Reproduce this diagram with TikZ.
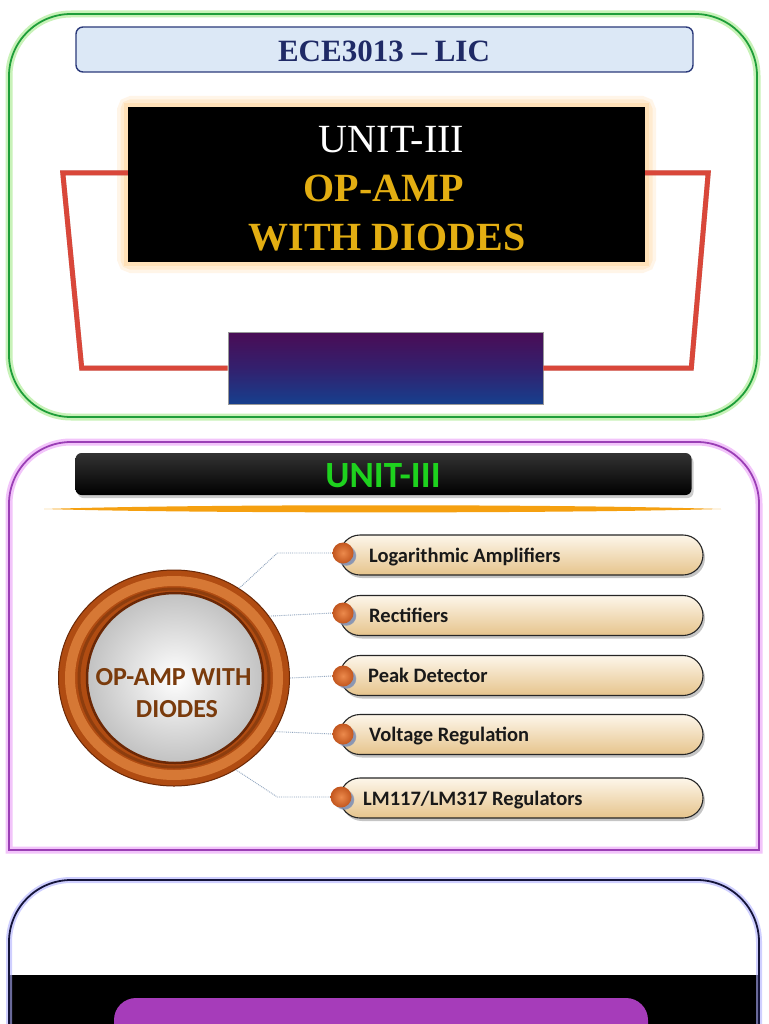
\documentclass[tikz,border=0pt]{standalone}
\usepackage{fontspec}
\newfontfamily\tms{Liberation Serif}
\newfontfamily\calib{Carlito}
\usetikzlibrary{shapes.geometric,shapes.misc,shadows,calc}
\definecolor{panelgreen}{HTML}{1E9E3A}
\definecolor{glowgreen}{HTML}{C8F2B8}
\definecolor{ecefill}{HTML}{DCE8F6}
\definecolor{ecedraw}{HTML}{2B3A7A}
\definecolor{ecetext}{HTML}{1F2A66}
\definecolor{gold}{HTML}{E3AE12}
\definecolor{redline}{HTML}{D9473A}
\definecolor{pviolet}{HTML}{4A0C55}
\definecolor{pblue}{HTML}{163F8D}
\definecolor{pmid}{HTML}{33206E}
\definecolor{panelpurple}{HTML}{9A3FB5}
\definecolor{glowpurple}{HTML}{F2C4FA}
\definecolor{unitgreen}{HTML}{1ED21E}
\definecolor{orangeline}{HTML}{F5A010}
\definecolor{ringbrown}{HTML}{B04C12}
\definecolor{ringlight}{HTML}{E0843E}
\definecolor{ringdark}{HTML}{6B2806}
\definecolor{disctext}{HTML}{7A3B0C}
\definecolor{pilltop}{HTML}{FDF6EA}
\definecolor{pillbot}{HTML}{E6C48C}
\definecolor{bulletin}{HTML}{EC8A4C}
\definecolor{bulletout}{HTML}{C2561E}
\definecolor{bulletsh}{HTML}{8090B4}
\definecolor{connblue}{HTML}{8EA3BD}
\definecolor{navyline}{HTML}{15153A}
\definecolor{glowblue}{HTML}{B0B0FF}
\definecolor{btnpurple}{HTML}{A63CBA}
\definecolor{glowor}{HTML}{FFD9A6}
\tikzset{
  pill/.style={rounded rectangle, minimum width=363pt, minimum height=40pt, inner sep=0pt,
    top color=pilltop, bottom color=pillbot, draw=black!85, line width=1.1pt,
    drop shadow={shadow xshift=2pt, shadow yshift=-3pt, opacity=0.45}},
  bulletdot/.style={circle, minimum size=21pt, inner sep=0pt, inner color=bulletin, outer color=bulletout,
    circular drop shadow={shadow xshift=3pt, shadow yshift=-2.5pt, shadow scale=1, fill=bulletsh, opacity=0.9}},
  itemtxt/.style={anchor=base west, inner sep=0pt, text=black!90,
    font=\calib\bfseries\fontsize{20.5}{24}\selectfont},
  conn/.style={draw=connblue, line width=0.9pt, densely dotted},
  redpath/.style={draw=redline, line width=5pt, line join=miter},
  redshadow/.style={draw=black, opacity=0.18, line width=5pt, line join=miter}
}
\begin{document}
\begin{tikzpicture}[x=1pt,y=-1pt]
\useasboundingbox (0,0) rectangle (768,1024);
\clip (0,0) rectangle (768,1024);
\fill[white] (0,0) rectangle (768,1024);

% ---------------- top panel ----------------
\draw[line width=7pt, draw=glowgreen, rounded corners=62pt] (9,14) rectangle (757,417);
\draw[line width=1.8pt, draw=panelgreen, rounded corners=62pt] (9,14) rectangle (757,417);

\node[rectangle, rounded corners=7pt, fill=ecefill, draw=ecedraw, line width=1.4pt,
      minimum width=617pt, minimum height=45pt, inner sep=0pt] (ece) at (384.5,49.5) {};
\node[anchor=base, inner sep=0pt, text=ecetext] (ecetxt) at (384,62)
  {\tms\bfseries\fontsize{31}{34}\selectfont ECE3013 – LIC};

% soft orange glow of title box
\draw[line width=22pt, draw=glowor, opacity=0.25, rounded corners=4pt] (128,107) rectangle (645,262);
\draw[line width=15pt, draw=glowor, opacity=0.35, rounded corners=3pt] (128,107) rectangle (645,262);
\draw[line width=8pt, draw=glowor, opacity=0.55] (128,107) rectangle (645,262);
\node[rectangle, fill=black, minimum width=517pt, minimum height=155pt, inner sep=0pt]
  (title) at (386.5,184.5) {};
\node[anchor=base, inner sep=0pt, text=white] (t1) at (391.5,153)
  {\tms\fontsize{40}{44}\selectfont UNIT-III};
\node[anchor=base, inner sep=0pt, text=gold] (t2) at (383.5,202)
  {\tms\bfseries\fontsize{40}{44}\selectfont OP-AMP};
\node[anchor=base, inner sep=0pt, text=gold] (t3) at (387,250)
  {\tms\bfseries\fontsize{40}{44}\selectfont WITH DIODES};

\node[rectangle, minimum width=315pt, minimum height=72pt, inner sep=0pt,
      top color=pviolet, bottom color=pblue, middle color=pmid, draw=black!40, line width=0.6pt]
  (pbox) at (385.5,368) {};

% red frame lines (shadow first)
\begin{scope}[shift={(1.5,2)}]
\draw[redshadow] ([yshift=11.5pt]title.west) -- ([xshift=-65pt,yshift=11.5pt]title.west)
  -- ([xshift=-146pt]pbox.west) -- (pbox.west);
\draw[redshadow] ([yshift=11.5pt]title.east) -- ([xshift=63pt,yshift=11.5pt]title.east)
  -- ([xshift=148pt]pbox.east) -- (pbox.east);
\end{scope}
\draw[redpath] ([yshift=11.5pt]title.west) -- ([xshift=-65pt,yshift=11.5pt]title.west)
  -- ([xshift=-146pt]pbox.west) -- (pbox.west);
\draw[redpath] ([yshift=11.5pt]title.east) -- ([xshift=63pt,yshift=11.5pt]title.east)
  -- ([xshift=148pt]pbox.east) -- (pbox.east);

% ---------------- middle panel ----------------
\draw[line width=7pt, draw=glowpurple] (9,650) [rounded corners=62pt] -- (9,442) -- (759,442)
  -- (759,650) [sharp corners] -- (759,850) -- (9,850) -- cycle;
\draw[line width=1.8pt, draw=panelpurple] (9,650) [rounded corners=62pt] -- (9,442) -- (759,442)
  -- (759,650) [sharp corners] -- (759,850) -- (9,850) -- cycle;

\node[rectangle, rounded corners=6pt, top color=black!80, bottom color=black, minimum width=616pt,
      minimum height=42pt, inner sep=0pt,
      drop shadow={shadow xshift=2pt, shadow yshift=-3pt, opacity=0.4}] (ubar) at (383.5,474) {};
\node[anchor=base, inner sep=0pt, text=unitgreen] (utxt) at (383,487.5)
  {\calib\bfseries\fontsize{37}{42}\selectfont UNIT-III};

\fill[orangeline] (44,509) .. controls (200,504) and (560,504) .. (721,509)
  .. controls (560,513.5) and (200,513.5) .. (44,509) -- cycle;

% circle
\node[ellipse, minimum width=231pt, minimum height=216pt, inner sep=0pt, fill=ringbrown,
      draw=ringdark, line width=1pt] (ring) at (174,678) {};
\draw[line width=10pt, draw=ringlight, opacity=0.8] (ring.center) ellipse [x radius=104pt, y radius=97pt];
\draw[line width=3pt, draw=ringbrown!80!black] (ring.center) ellipse [x radius=95pt, y radius=89pt];
\node[ellipse, minimum width=176pt, minimum height=170pt, inner sep=0pt,
      inner color=white, outer color=black!24, draw=ringdark, line width=2.5pt] (disc) at (175,678) {};
\node[anchor=base, inner sep=0pt, text=disctext] (d1) at (173.5,685)
  {\calib\bfseries\fontsize{26}{30}\selectfont OP-AMP WITH};
\node[anchor=base, inner sep=0pt, text=disctext] (d2) at (177,717)
  {\calib\bfseries\fontsize{26}{30}\selectfont DIODES};

% items
\node[pill] (p1) at (521.5,555) {};
\node[pill] (p2) at (521.5,615.5) {};
\node[pill] (p3) at (521.5,675.5) {};
\node[pill] (p4) at (521.5,734.5) {};
\node[pill] (p5) at (521.5,798) {};

\node[bulletdot] (b1) at (343,553) {};
\node[bulletdot] (b2) at (343,613) {};
\node[bulletdot] (b3) at (343,676) {};
\node[bulletdot] (b4) at (343,734) {};
\node[bulletdot] (b5) at (341,797) {};

\node[itemtxt] (i1) at (369,562) {Logarithmic Amplifiers};
\node[itemtxt] (i2) at (369,622.5) {Rectifiers};
\node[itemtxt] (i3) at (368,682.5) {Peak Detector};
\node[itemtxt] (i4) at (369,741.5) {Voltage Regulation};
\node[itemtxt] (i5) at (363,805) {LM117/LM317 Regulators};

\draw[conn] (ring.54) -- ([xshift=-55pt]b1.west) -- (b1.west);
\draw[conn] (ring.33) -- (b2.west);
\draw[conn] (ring.0) -- (b3.west);
\draw[conn] (ring.-28) -- (b4.west);
\draw[conn] (ring.-56) -- ([xshift=-53pt]b5.west) -- (b5.west);

% ---------------- bottom panel ----------------
\fill[black] (9,975) rectangle (759,1030);
\draw[line width=6pt, draw=glowblue, opacity=0.6] (9,1040) [rounded corners=62pt] -- (9,880) -- (759,880) -- (759,1040);
\draw[line width=1.8pt, draw=navyline] (9,1040) [rounded corners=62pt] -- (9,880) -- (759,880) -- (759,1040);
\fill[btnpurple, rounded corners=22pt] (114,998) rectangle (648,1070);
\end{tikzpicture}
\end{document}
